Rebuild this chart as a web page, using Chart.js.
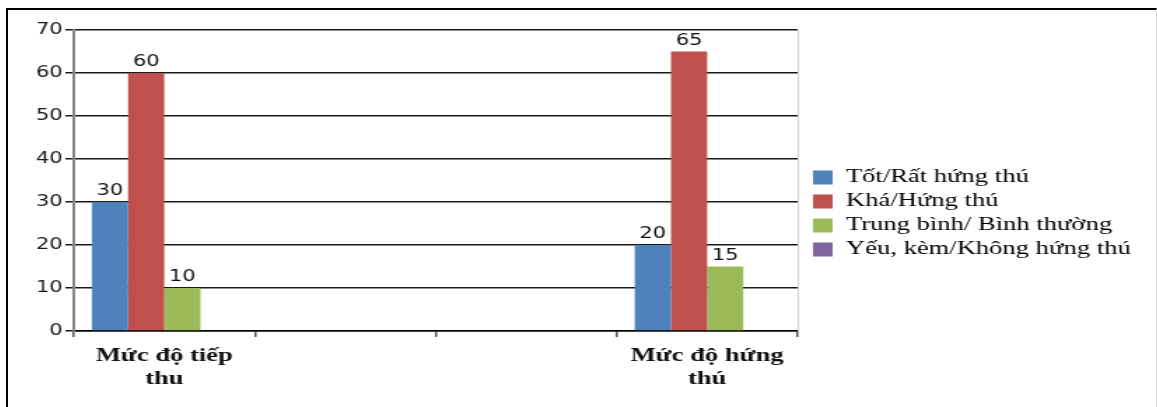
<!DOCTYPE html>
<html>
<head>
<meta charset="utf-8">
<script src="https://cdn.jsdelivr.net/npm/chart.js@4.4.1/dist/chart.umd.min.js"></script>
<style>
html,body{margin:0;padding:0;background:#fff;overflow:hidden;}
#khung{position:absolute;left:6px;top:8px;width:1151px;height:420px;border-top:2px solid #000;border-left:2px solid #000;border-right:1px solid #d9d9d9;box-sizing:border-box;}
#bieudo{position:absolute;left:8px;top:11px;transform:scaleX(1.4);transform-origin:0 0;}
</style>
</head>
<body>
<div id="khung"></div>
<canvas id="bieudo" width="819" height="396"></canvas>
<script>
// nhóm tiêu chí (hai cột giữa để trống như bản gốc)
const NHOM=[['Mức độ tiếp','thu'],'','',['Mức độ hứng','thú']];
const MUC=['Tốt/Rất hứng thú','Khá/Hứng thú','Trung bình/ Bình thường','Yếu, kèm/Không hứng thú'];
const TOT=[30,null,null,20];
const KHA=[60,null,null,65];
const TB=[10,null,null,15];
const YEU=[0,null,null,0];
const MAU=['#4f81bd','#c0504d','#9bbb59','#8064a2'];
const Y_TICKS=[0,10,20,30,40,50,60,70];
const RONG_CHU_THICH=249;

// ghi số lên đầu cột
const nhanSo={
  id:'nhanSo',
  afterDatasetsDraw(chart){
    const ctx=chart.ctx;
    ctx.save();
    ctx.font='15px "DejaVu Sans"';
    ctx.fillStyle='#111';
    ctx.textAlign='center';
    ctx.textBaseline='bottom';
    chart.data.datasets.forEach(function(ds,i){
      chart.getDatasetMeta(i).data.forEach(function(bar,j){
        const v=ds.data[j];
        if(!v) return;
        ctx.fillText(String(v),bar.x,bar.y-3);
      });
    });
    ctx.restore();
  }
};

// chú thích bên phải bị layout giới hạn bề rộng, nới ra cho đủ chữ
const rongChuThich={
  id:'rongChuThich',
  beforeUpdate(chart){
    const lg=chart.legend;
    if(!lg||lg._daNoi) return;
    const fit=lg.fit;
    lg.fit=function(){fit.call(this);this.width=RONG_CHU_THICH;};
    lg._daNoi=true;
  }
};

const series=[TOT,KHA,TB,YEU];
new Chart(document.getElementById('bieudo'),{
  type:'bar',
  data:{
    labels:NHOM,
    datasets:series.map(function(d,i){
      return {label:MUC[i],data:d,backgroundColor:MAU[i],borderWidth:0,categoryPercentage:0.8,barPercentage:1};
    })
  },
  options:{
    responsive:false,
    animation:false,
    layout:{padding:{top:19,right:0,bottom:0,left:0}},
    plugins:{
      tooltip:{enabled:false},
      legend:{
        position:'right',align:'start',
        title:{display:true,text:'',font:{size:10,lineHeight:1},padding:{top:123,bottom:0}},
        labels:{boxWidth:14,boxHeight:14,padding:5,color:'#000',font:{family:'"Liberation Serif"',size:19}}
      }
    },
    scales:{
      x:{
        offset:true,
        grid:{offset:true,drawOnChartArea:false,drawTicks:true,tickLength:6,color:'#555',lineWidth:1.5},
        border:{color:'#000',width:1.5},
        ticks:{autoSkip:false,maxRotation:0,padding:8,color:'#111',font:{family:'"Liberation Serif"',size:19,weight:'bold',lineHeight:1.2}},
        afterFit(s){s.height=76;}
      },
      y:{
        min:0,max:70,
        afterBuildTicks(s){s.ticks=Y_TICKS.map(function(v){return {value:v};});},
        grid:{color:'#1a1a1a',lineWidth:1.5,tickLength:6},
        border:{color:'#888',width:2},
        ticks:{padding:2,color:'#1a1a1a',font:{family:'"DejaVu Sans"',size:15}},
        afterFit(s){s.width=47;}
      },
      y2:{
        position:'right',display:true,min:0,max:70,
        grid:{drawOnChartArea:false,drawTicks:false},
        ticks:{display:false},
        border:{color:'#d0d0d0',width:1},
        afterFit(s){s.width=6;}
      }
    }
  },
  plugins:[nhanSo,rongChuThich]
});
</script>
</body>
</html>
